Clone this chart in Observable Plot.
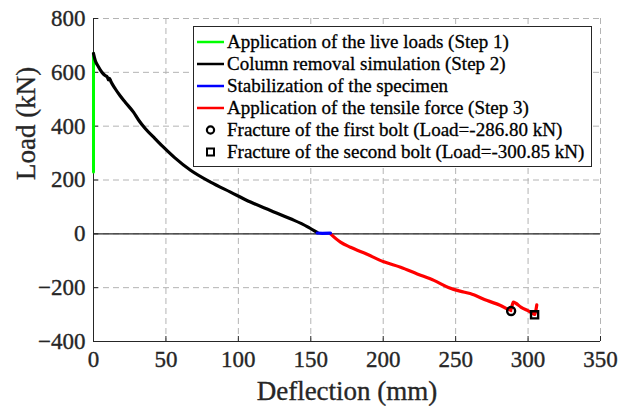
<!DOCTYPE html>
<html>
<head>
<meta charset="utf-8">
<script src="https://cdn.jsdelivr.net/npm/d3@7"></script>
<script src="https://cdn.jsdelivr.net/npm/@observablehq/plot@0.6"></script>
<style>
  html, body { margin: 0; padding: 0; background: #fff; }
  #wrap { position: relative; width: 620px; height: 409px; font-family: "Liberation Serif", "Times New Roman", serif; }
  #chart svg text { stroke: #262626; stroke-width: 0.35px; }
  #legend { position: absolute; left: 193px; top: 26px; width: 397px; height: 135px; border: 1px solid #262626; background: #fff; padding-top: 4px; box-sizing: content-box; }
  .row { height: 22px; line-height: 22px; display: flex; align-items: center; font-size: 19px; color: #000; white-space: nowrap; -webkit-text-stroke: 0.3px #000; }
  .row svg { margin-left: 3px; margin-right: 3px; flex: none; }
</style>
</head>
<body>
<div id="wrap"><div id="chart"></div><div id="legend"></div></div>
<script>
// ---- data ----
const xTicks = [0, 50, 100, 150, 200, 250, 300, 350];
const yTicks = [-400, -200, 0, 200, 400, 600, 800];

const liveDefl = [0, 0];
const liveLoad = [230, 670];

const removalDefl = [0, 1.2, 3.5, 5.8, 8, 9.5, 10.3, 11, 12, 15, 18.5, 21.9, 27.6, 31.1, 35.7, 42.6, 48.5, 56, 67, 80.8, 94.6, 108.4, 122.2, 136, 147.5, 154.4];
const removalLoad = [670, 644, 620, 600, 588, 583, 572, 578, 566, 539, 512, 489, 452, 423, 391, 353, 321, 283, 236, 192, 155, 118, 87, 56, 27, 5];

const stabDefl = [154.4, 158, 163.6];
const stabLoad = [3, 2, 3];

const tensileDefl = [163.6, 170.5, 177.4, 188.9, 200.4, 212, 223.5, 235, 245, 253, 260, 271.8, 281, 288, 289.8, 291.5, 295, 300.8, 304.5, 306];
const tensileLoad = [0, -31, -50, -76, -104, -124, -149, -173, -199, -213, -222, -248, -266, -283, -254, -258, -272, -288, -299, -264];

const fractureDefl = [288.3, 304.5];
const fractureLoad = [-286.80, -300.85];
const fractureSymbols = ["circle", "square"];

const seriesNames = [
  "Application of the live loads (Step 1)",
  "Column removal simulation (Step 2)",
  "Stabilization of the specimen",
  "Application of the tensile force (Step 3)",
  "Fracture of the first bolt (Load=-286.80 kN)",
  "Fracture of the second bolt (Load=-300.85 kN)"
];
const seriesColors = ["#00ff00", "#000000", "#0000ff", "#ff0000", "#000000", "#000000"];

// ---- build tables ----
const toRows = (xs, ys) => xs.map((x, i) => ({x, y: ys[i]}));
const live = toRows(liveDefl, liveLoad);
const removal = toRows(removalDefl, removalLoad);
const stab = toRows(stabDefl, stabLoad);
const tensile = toRows(tensileDefl, tensileLoad);
const fractures = fractureDefl.map((x, i) => ({x, y: fractureLoad[i], s: fractureSymbols[i]}));

const gridStyle = {stroke: "#b4b4b4", strokeOpacity: 1, strokeWidth: 1, strokeDasharray: "6,4"};

const chart = Plot.plot({
  width: 620,
  height: 409,
  marginLeft: 93,
  marginRight: 20,
  marginTop: 18,
  marginBottom: 68,
  style: {fontFamily: "'Liberation Serif', 'Times New Roman', serif", fontSize: "23px", color: "#262626", background: "#fff", overflow: "visible"},
  x: {domain: [xTicks[0], xTicks[xTicks.length - 1]]},
  y: {domain: [yTicks[0], yTicks[yTicks.length - 1]]},
  symbol: {domain: fractureSymbols, range: fractureSymbols},
  marks: [
    Plot.gridX(xTicks, gridStyle),
    Plot.gridY(yTicks, gridStyle),
    Plot.ruleY([0], {stroke: "#262626", strokeWidth: 1.2}),
    Plot.axisX(xTicks, {tickSize: -5, tickPadding: 14, label: null, stroke: "#262626", fill: "#262626"}),
    Plot.axisY(yTicks, {tickSize: -5, tickPadding: 13, label: null, stroke: "#262626", fill: "#262626"}),
    Plot.ruleX([xTicks[0]], {stroke: "#262626", strokeWidth: 1}),
    Plot.ruleY([yTicks[0]], {stroke: "#262626", strokeWidth: 1}),
    Plot.line(live, {x: "x", y: "y", stroke: seriesColors[0], strokeWidth: 3}),
    Plot.line(removal, {x: "x", y: "y", stroke: seriesColors[1], strokeWidth: 3.2, curve: "monotone-x"}),
    Plot.line(tensile, {x: "x", y: "y", stroke: seriesColors[3], strokeWidth: 3.2, curve: "monotone-x"}),
    Plot.line(stab, {x: "x", y: "y", stroke: seriesColors[2], strokeWidth: 3.2}),
    Plot.dot(fractures, {x: "x", y: "y", symbol: "s", r: 4, stroke: "#000", strokeWidth: 2.4, fill: "none"}),
    Plot.dot(fractures, {x: "x", y: "y", r: 1.2, fill: "#ff0000"}),
    Plot.text(["Deflection (mm)"], {frameAnchor: "bottom", dy: 50, fontSize: 27, fill: "#262626", lineAnchor: "middle"}),
    Plot.text(["Load (kN)"], {frameAnchor: "left", dx: -67, rotate: -90, fontSize: 27, fill: "#262626", lineAnchor: "middle"})
  ]
});
document.getElementById("chart").appendChild(chart);

// ---- legend ----
const legend = document.getElementById("legend");
seriesNames.forEach((name, i) => {
  const row = document.createElement("div");
  row.className = "row";
  let sw;
  if (i < 4) {
    sw = `<svg width="27" height="22"><line x1="0" x2="27" y1="11" y2="11" stroke="${seriesColors[i]}" stroke-width="2.5"/></svg>`;
  } else if (i === 4) {
    sw = `<svg width="27" height="22"><circle cx="13.5" cy="11" r="3.6" fill="none" stroke="#000" stroke-width="2.2"/></svg>`;
  } else {
    sw = `<svg width="27" height="22"><rect x="10" y="7.5" width="7" height="7" fill="none" stroke="#000" stroke-width="2"/></svg>`;
  }
  row.innerHTML = sw + `<span>${name}</span>`;
  legend.appendChild(row);
});
</script>
</body>
</html>
